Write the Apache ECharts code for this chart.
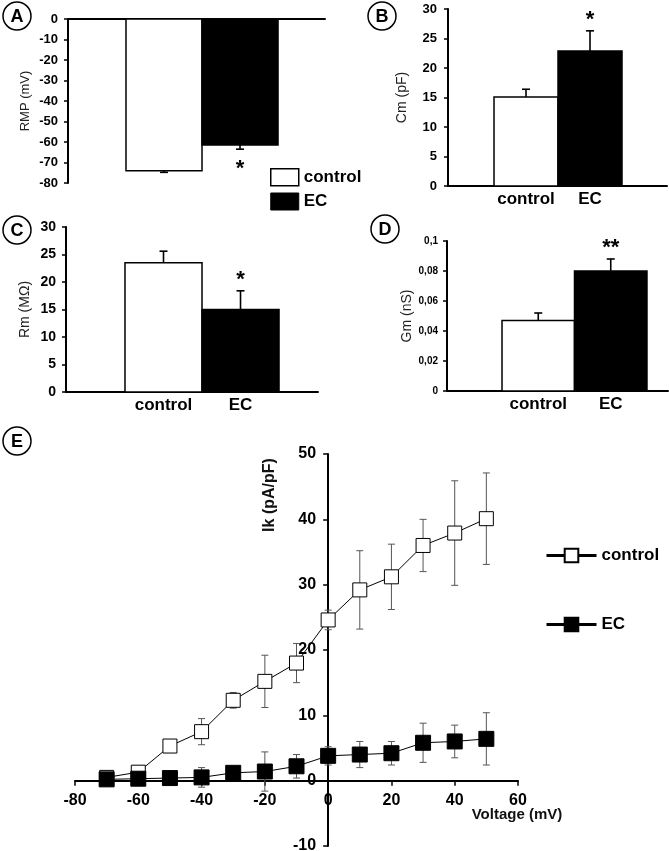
<!DOCTYPE html>
<html><head><meta charset="utf-8">
<script src="https://cdn.jsdelivr.net/npm/echarts@6/dist/echarts.min.js"></script>
<style>html,body{margin:0;padding:0;background:#fff}#c{width:669px;height:851px}</style>
</head><body><div id="c"></div>
<script>
// ---------- data ----------
const groups = ['control', 'EC'];
// A: resting membrane potential
const rmpMean = [-74, -61.5];
const rmpErr = [0.8, 2.0];
const rmpSig = ['', '*'];
// B: membrane capacitance
const cmMean = [15.1, 22.9];
const cmErr = [1.3, 3.4];
const cmSig = ['', '*'];
// C: membrane resistance
const rmMean = [23.5, 15.0];
const rmErr = [2.1, 3.4];
const rmSig = ['', '*'];
// D: membrane conductance
const gmMean = [0.047, 0.080];
const gmErr = [0.005, 0.008];
const gmSig = ['', '**'];
// E: I-V relation
const voltage = [-70, -60, -50, -40, -30, -20, -10, 0, 10, 20, 30, 40, 50];
const ikControl = [0.5, 1.3, 5.3, 7.5, 12.3, 15.2, 18.0, 24.6, 29.2, 31.2, 36.0, 37.9, 40.1];
const ikControlErr = [0.4, 0.3, 0.5, 2.0, 1.2, 4.0, 3.0, 1.5, 6.0, 5.0, 4.0, 8.0, 7.0];
const ikEC = [0.2, 0.3, 0.4, 0.5, 1.2, 1.4, 2.2, 3.8, 4.0, 4.2, 5.8, 6.0, 6.4];
const ikECErr = [0.2, 0.3, 0.4, 1.5, 0.6, 3.0, 1.8, 1.4, 2.0, 1.8, 3.0, 2.5, 4.0];

// ---------- helpers ----------
const F = "'Liberation Sans', Arial, Helvetica, sans-serif";
const chart = echarts.init(document.getElementById('c'), null, {renderer: 'canvas'});

function barItem(params, api) {
  const x = api.value(0), y = api.value(1);
  const a = api.coord([x - 0.5, y]), b = api.coord([x + 0.5, 0]);
  return {type: 'rect', shape: {x: a[0], y: Math.min(a[1], b[1]), width: b[0] - a[0], height: Math.abs(b[1] - a[1])}, style: api.style()};
}
function barErrItem(sig) {
  return function (params, api) {
    const x = api.value(0), m = api.value(1), e = api.value(2);
    const dir = m < 0 ? -1 : 1;
    const p0 = api.coord([x, m]), p1 = api.coord([x, m + dir * e]);
    const cap = 4;
    const st = {stroke: '#000', lineWidth: 1.6};
    const ch = [
      {type: 'line', shape: {x1: p0[0], y1: p0[1], x2: p1[0], y2: p1[1]}, style: st},
      {type: 'line', shape: {x1: p1[0] - cap, y1: p1[1], x2: p1[0] + cap, y2: p1[1]}, style: st}
    ];
    const s = sig[params.dataIndex];
    if (s) ch.push({type: 'text', style: {text: s, x: p1[0], y: p1[1] + (dir < 0 ? 20 : -11), align: 'center', verticalAlign: 'middle', font: 'bold 22px ' + F, fill: '#000'}});
    return {type: 'group', children: ch};
  };
}
function xyErrItem(params, api) {
  const x = api.value(0), m = api.value(1), e = api.value(2);
  const a = api.coord([x, m - e]), b = api.coord([x, m + e]);
  const c = 3.5, st = {stroke: '#555', lineWidth: 1};
  return {type: 'group', children: [
    {type: 'line', shape: {x1: a[0], y1: a[1], x2: b[0], y2: b[1]}, style: st},
    {type: 'line', shape: {x1: a[0] - c, y1: a[1], x2: a[0] + c, y2: a[1]}, style: st},
    {type: 'line', shape: {x1: b[0] - c, y1: b[1], x2: b[0] + c, y2: b[1]}, style: st}
  ]};
}
function yAx(gi, min, max, interval, name, nameGap, nameSize, labelSize, margin, fmt) {
  return {type: 'value', gridIndex: gi, min, max, interval, name, nameLocation: 'middle', nameGap,
    nameTextStyle: {fontFamily: F, fontSize: nameSize, color: '#222'},
    axisLine: {show: true, onZero: false, lineStyle: {color: '#000', width: 2}},
    axisTick: {show: true, length: 4, lineStyle: {color: '#000', width: 1.5}},
    axisLabel: {fontFamily: F, fontWeight: 'bold', fontSize: labelSize, color: '#000', margin, formatter: fmt},
    splitLine: {show: false}};
}
function xAx(gi, min, max, showLabels) {
  return {type: 'value', gridIndex: gi, min, max,
    axisLine: {show: true, onZero: true, lineStyle: {color: '#000', width: 2}},
    axisTick: {show: false}, splitLine: {show: false},
    axisLabel: {show: showLabels, customValues: [1, 2], formatter: v => groups[Math.round(v) - 1] || '',
      fontFamily: F, fontWeight: 'bold', fontSize: 17, color: '#000', margin: 5}};
}
function barSeries(gi, mean, err, sig) {
  const styles = [{color: '#fff', borderColor: '#000', borderWidth: 1.5}, {color: '#000', borderColor: '#000', borderWidth: 1.5}];
  const out = groups.map((g, i) => ({type: 'custom', name: g, xAxisIndex: gi, yAxisIndex: gi, renderItem: barItem,
    itemStyle: styles[i], encode: {x: 0, y: 1}, data: [[i + 1, mean[i]]], z: 2, silent: true}));
  out.push({type: 'custom', name: 'err' + gi, xAxisIndex: gi, yAxisIndex: gi, renderItem: barErrItem(sig), encode: {x: 0, y: 1},
    data: groups.map((g, i) => [i + 1, mean[i], err[i]]), z: 3, silent: true});
  return out;
}

const gE = {left: 75, top: 454, width: 443, height: 392};
const xMinE = -80, xMaxE = 60, yMinE = -10, yMaxE = 50;
const grid = [
  {left: 68, top: 19, width: 257, height: 164},
  {left: 448, top: 9, width: 219, height: 177},
  {left: 66, top: 227, width: 252, height: 165},
  {left: 447, top: 241, width: 221, height: 150},
  gE
].map(g => Object.assign({containLabel: false, outerBoundsMode: 'none'}, g));

const commaFmt = v => String(+(+v).toFixed(2)).replace('.', ',');

// place E axes on the origin (axis offset measured from grid edge to the zero line)
const yZeroOffset = -(0 - xMinE) / (xMaxE - xMinE) * gE.width;
const xZeroOffset = -(0 - yMinE) / (yMaxE - yMinE) * gE.height;

const xAxis = [
  xAx(0, -0.263, 3.118, false),
  xAx(1, -0.219, 3.203, true),
  xAx(2, -0.266, 3.006, true),
  xAx(3, -0.259, 2.79, true),
  {type: 'value', gridIndex: 4, min: xMinE, max: xMaxE, interval: 20, position: 'bottom', offset: xZeroOffset,
    axisLine: {show: true, onZero: false, lineStyle: {color: '#000', width: 2}},
    axisTick: {show: true, length: 5, lineStyle: {color: '#000', width: 1.5}},
    splitLine: {show: false},
    axisLabel: {fontFamily: F, fontWeight: 'bold', fontSize: 16, color: '#000', margin: 12}}
];
const yAxis = [
  yAx(0, -80, 0, 10, 'RMP (mV)', 36, 13, 13, 10),
  yAx(1, 0, 30, 5, 'Cm (pF)', 39, 14, 13, 11),
  yAx(2, 0, 30, 5, 'Rm (MΩ)', 34, 14, 14, 10),
  yAx(3, 0, 0.1, 0.02, 'Gm (nS)', 32, 14, 10, 9, commaFmt),
  {type: 'value', gridIndex: 4, min: yMinE, max: yMaxE, interval: 10, position: 'left', offset: yZeroOffset,
    axisLine: {show: true, onZero: false, lineStyle: {color: '#000', width: 2}},
    axisTick: {show: true, length: 5, lineStyle: {color: '#000', width: 1.5}},
    splitLine: {show: false},
    axisLabel: {fontFamily: F, fontWeight: 'bold', fontSize: 16, color: '#000', margin: 12}}
];

const series = [
  {type: 'line', name: 'control', xAxisIndex: 4, yAxisIndex: 4, data: voltage.map((v, i) => [v, ikControl[i]]),
    symbol: 'rect', symbolSize: 14, showAllSymbol: true, lineStyle: {color: '#000', width: 1},
    itemStyle: {color: '#fff', borderColor: '#000', borderWidth: 1}, z: 4, silent: true, animation: false},
  {type: 'line', name: 'EC', xAxisIndex: 4, yAxisIndex: 4, data: voltage.map((v, i) => [v, ikEC[i]]),
    symbol: 'rect', symbolSize: 15, showAllSymbol: true, lineStyle: {color: '#000', width: 1},
    itemStyle: {color: '#000', borderColor: '#000', borderWidth: 1}, z: 5, silent: true, animation: false},
  {type: 'custom', name: 'errControl', xAxisIndex: 4, yAxisIndex: 4, renderItem: xyErrItem, encode: {x: 0, y: 1},
    data: voltage.map((v, i) => [v, ikControl[i], ikControlErr[i]]), z: 3, silent: true},
  {type: 'custom', name: 'errEC', xAxisIndex: 4, yAxisIndex: 4, renderItem: xyErrItem, encode: {x: 0, y: 1},
    data: voltage.map((v, i) => [v, ikEC[i], ikECErr[i]]), z: 3, silent: true},
  ...barSeries(0, rmpMean, rmpErr, rmpSig),
  ...barSeries(1, cmMean, cmErr, cmSig),
  ...barSeries(2, rmMean, rmErr, rmSig),
  ...barSeries(3, gmMean, gmErr, gmSig)
];

const legend = [
  {orient: 'vertical', left: 265, top: 163, itemWidth: 28, itemHeight: 17, itemGap: 6, selectedMode: false,
    textStyle: {fontFamily: F, fontWeight: 'bold', fontSize: 17, color: '#000'},
    data: [
      {name: 'control', icon: 'rect', itemStyle: {color: '#fff', borderColor: '#000', borderWidth: 1.5}},
      {name: 'EC', icon: 'rect', itemStyle: {color: '#000', borderColor: '#000', borderWidth: 1}}
    ]},
  {orient: 'vertical', left: 540, top: 542, itemWidth: 50, itemHeight: 17, itemGap: 52, selectedMode: false,
    textStyle: {fontFamily: F, fontWeight: 'bold', fontSize: 17, color: '#000'},
    lineStyle: {width: 3},
    data: [{name: 'control'}, {name: 'EC'}]}
];

const panelLetters = [['A', 17, 16], ['B', 382, 16], ['C', 17, 230], ['D', 385, 229], ['E', 17, 441]];
const graphic = [];
panelLetters.forEach(([t, x, y]) => {
  graphic.push({type: 'circle', shape: {cx: x, cy: y, r: 14}, style: {fill: '#fff', stroke: '#000', lineWidth: 1.5}, z: 10});
  graphic.push({type: 'text', x: x, y: y + 1, style: {text: t, align: 'center', verticalAlign: 'middle', font: 'bold 18px ' + F, fill: '#000'}, z: 11});
});
graphic.push({type: 'text', x: 270, y: 495, rotation: Math.PI / 2,
  style: {text: 'Ik (pA/pF)', align: 'center', verticalAlign: 'middle', font: 'bold 16px ' + F, fill: '#111'}});
graphic.push({type: 'text', x: 517, y: 815,
  style: {text: 'Voltage (mV)', align: 'center', verticalAlign: 'middle', font: 'bold 15px ' + F, fill: '#111'}});

chart.setOption({animation: false, backgroundColor: '#fff', grid, xAxis, yAxis, series, legend, graphic});
</script></body></html>
